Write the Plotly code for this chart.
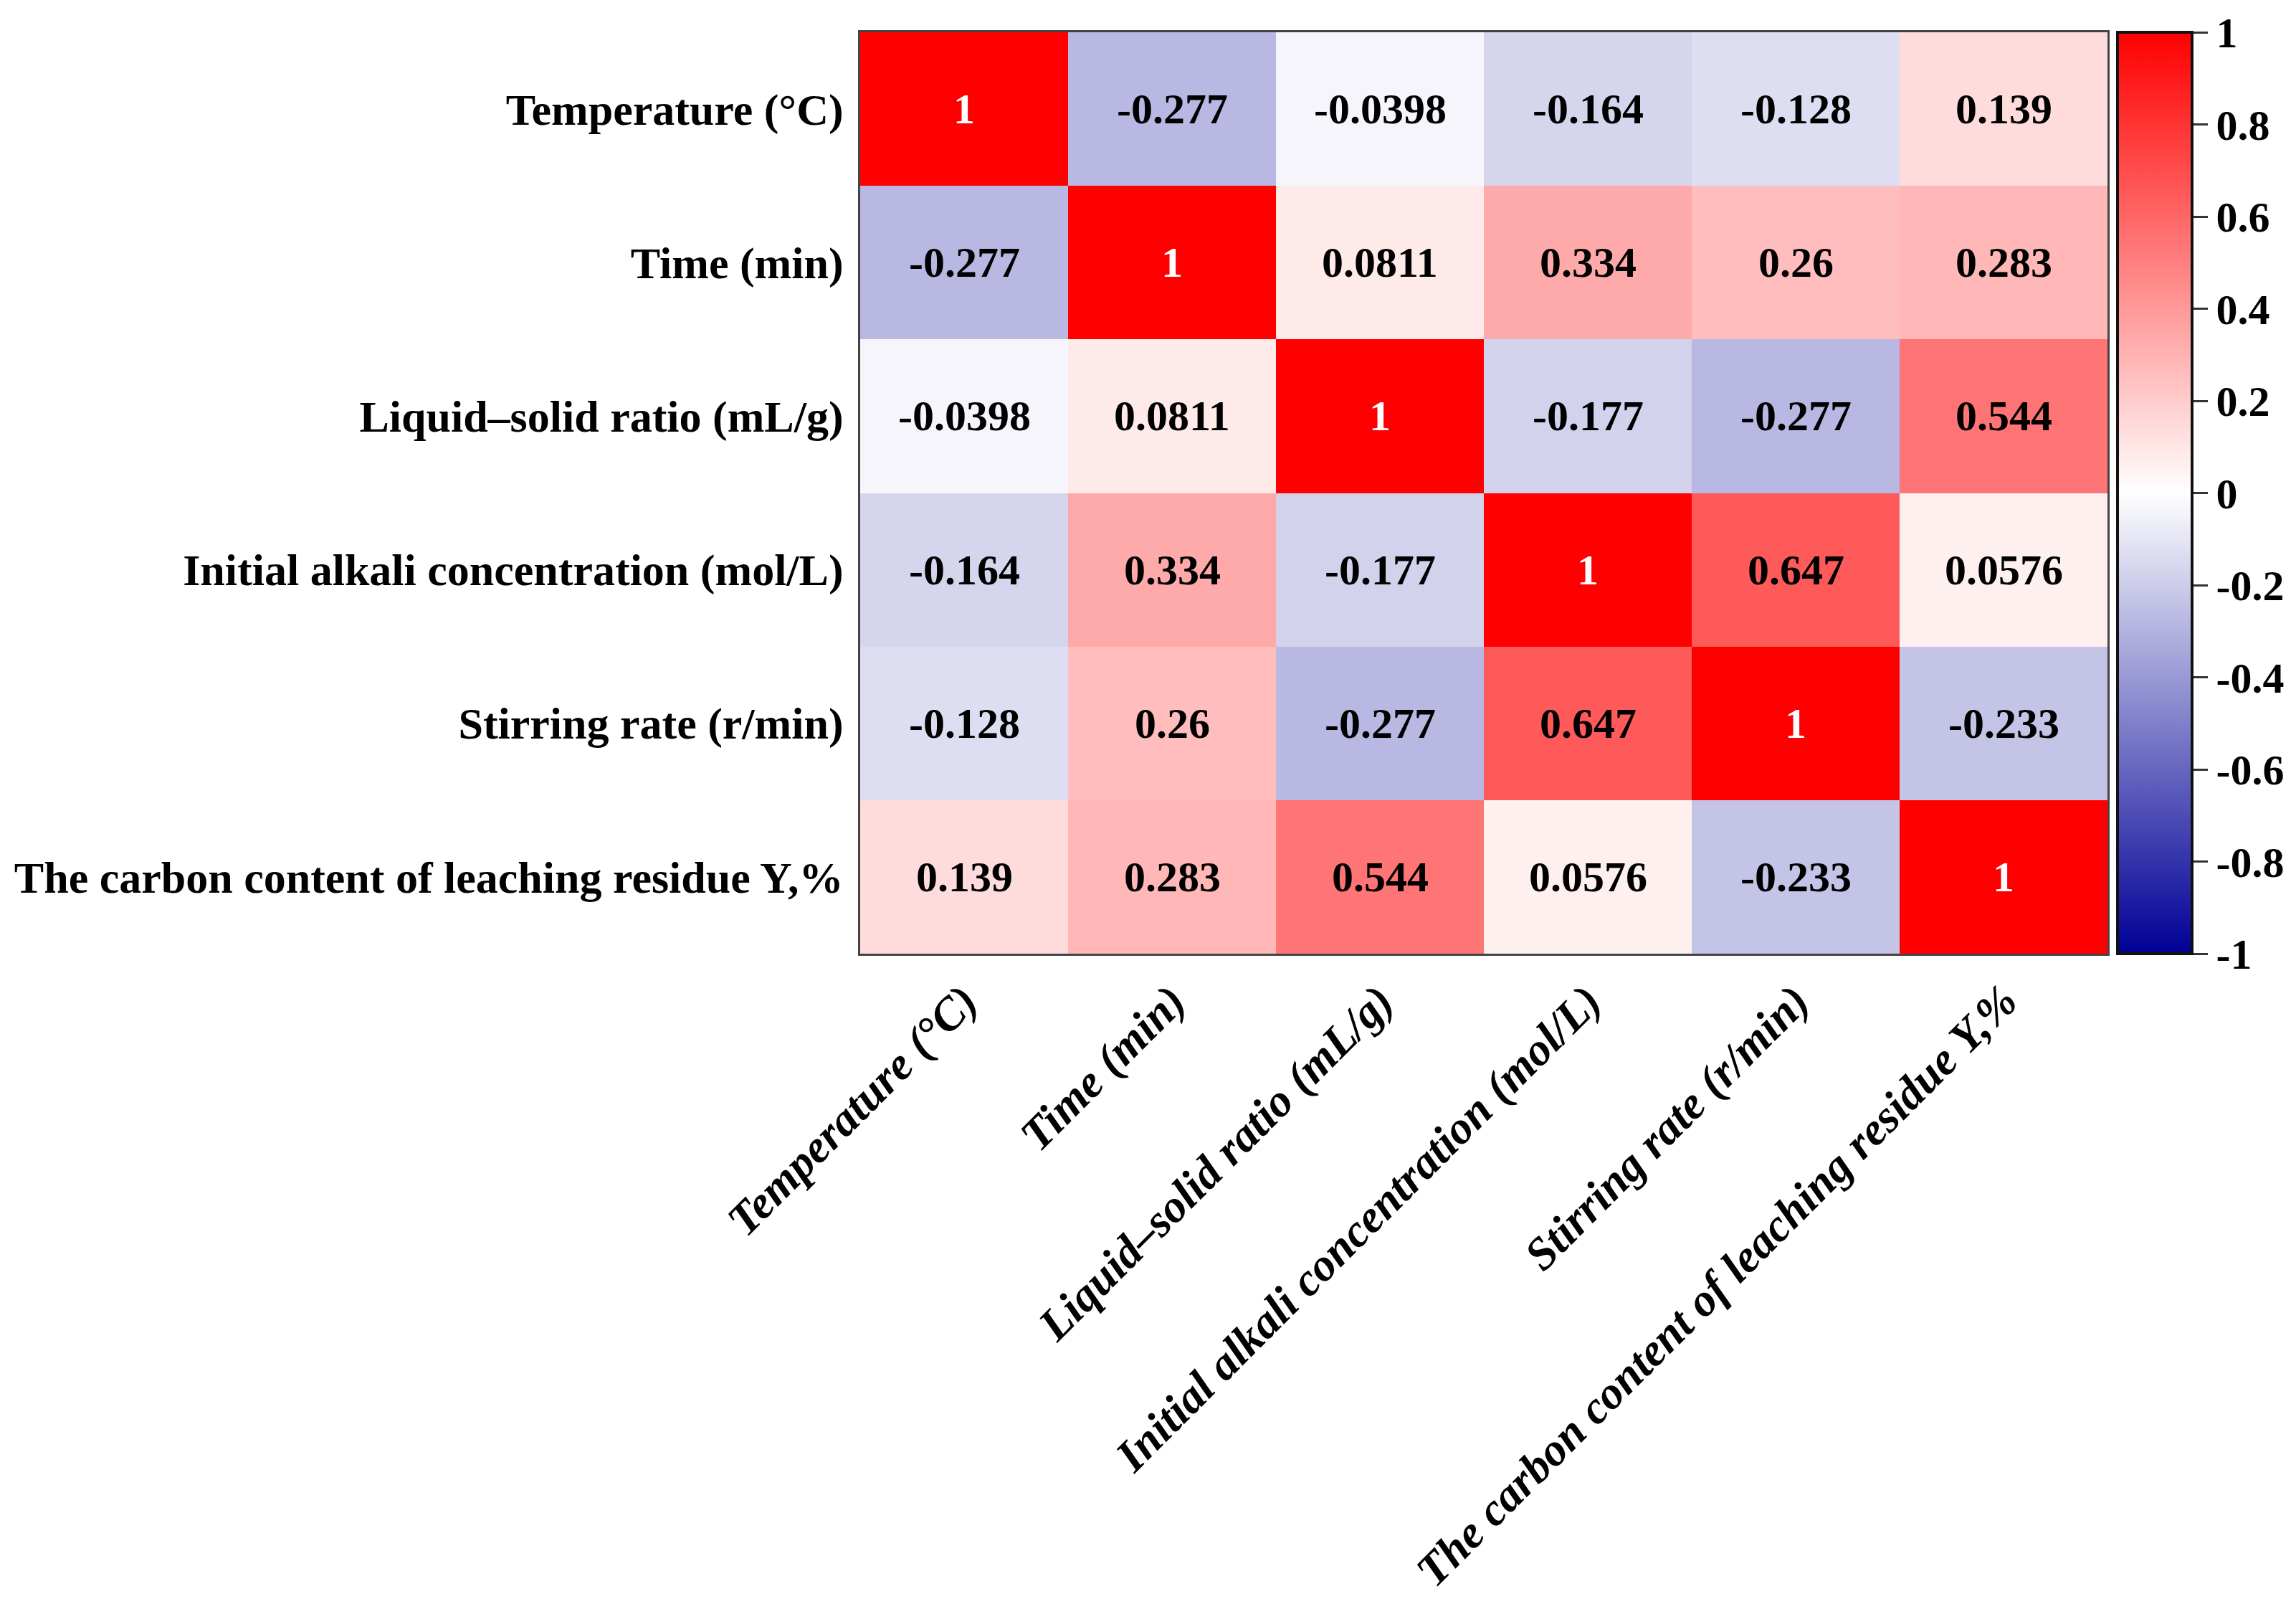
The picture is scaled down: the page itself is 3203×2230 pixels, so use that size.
import plotly.graph_objects as go

FONT = "Liberation Serif"

labels = [
    "Temperature (°C)",
    "Time (min)",
    "Liquid–solid ratio (mL/g)",
    "Initial alkali concentration (mol/L)",
    "Stirring rate (r/min)",
    "The carbon content of leaching residue Y,%",
]

row_temperature = [1, -0.277, -0.0398, -0.164, -0.128, 0.139]
row_time = [-0.277, 1, 0.0811, 0.334, 0.26, 0.283]
row_ratio = [-0.0398, 0.0811, 1, -0.177, -0.277, 0.544]
row_alkali = [-0.164, 0.334, -0.177, 1, 0.647, 0.0576]
row_stirring = [-0.128, 0.26, -0.277, 0.647, 1, -0.233]
row_carbon = [0.139, 0.283, 0.544, 0.0576, -0.233, 1]

z = [row_temperature, row_time, row_ratio, row_alkali, row_stirring, row_carbon]

cbar_ticks = [-1, -0.8, -0.6, -0.4, -0.2, 0, 0.2, 0.4, 0.6, 0.8, 1]

fig = go.Figure(go.Heatmap(
    z=z, x=labels, y=labels,
    zmin=-1, zmax=1,
    colorscale=[[0, "rgb(0,0,150)"], [0.5, "rgb(255,255,255)"], [1, "rgb(255,0,0)"]],
    xgap=0, ygap=0,
    hoverinfo="skip",
    colorbar=dict(
        x=1.008, xanchor="left", xpad=0,
        y=1, yanchor="top", len=1, lenmode="fraction", ypad=0,
        thickness=104,
        outlinecolor="#111", outlinewidth=4,
        tickvals=cbar_ticks,
        ticktext=[f"{v:g}" for v in cbar_ticks],
        ticks="outside", ticklen=20, tickwidth=3, tickcolor="#333",
        tickfont=dict(family=FONT, size=60, color="black", weight="bold"),
        ticklabelposition="outside",
    ),
))

# cell values
for i, row in enumerate(z):
    for j, v in enumerate(row):
        fig.add_annotation(
            x=labels[j], y=labels[i], text=f"{v:g}", showarrow=False,
            font=dict(family=FONT, size=60, weight="bold",
                      color="white" if v == 1 else "black"),
        )

fig.update_layout(
    width=3203, height=2230,
    margin=dict(l=1187, r=271, t=37, b=898),
    paper_bgcolor="white", plot_bgcolor="white",
    xaxis=dict(
        tickangle=-45, ticks="", showline=True, mirror=True,
        linecolor="#444", linewidth=3, showgrid=False, zeroline=False,
        tickfont=dict(family=FONT, size=64, color="black", weight="bold", style="italic"),
    ),
    yaxis=dict(
        autorange="reversed", ticks="", showline=True, mirror=True,
        linecolor="#444", linewidth=3, showgrid=False, zeroline=False,
        ticklabelstandoff=8,
        tickfont=dict(family=FONT, size=62, color="black", weight="bold"),
    ),
)

fig.write_html("out.html")
